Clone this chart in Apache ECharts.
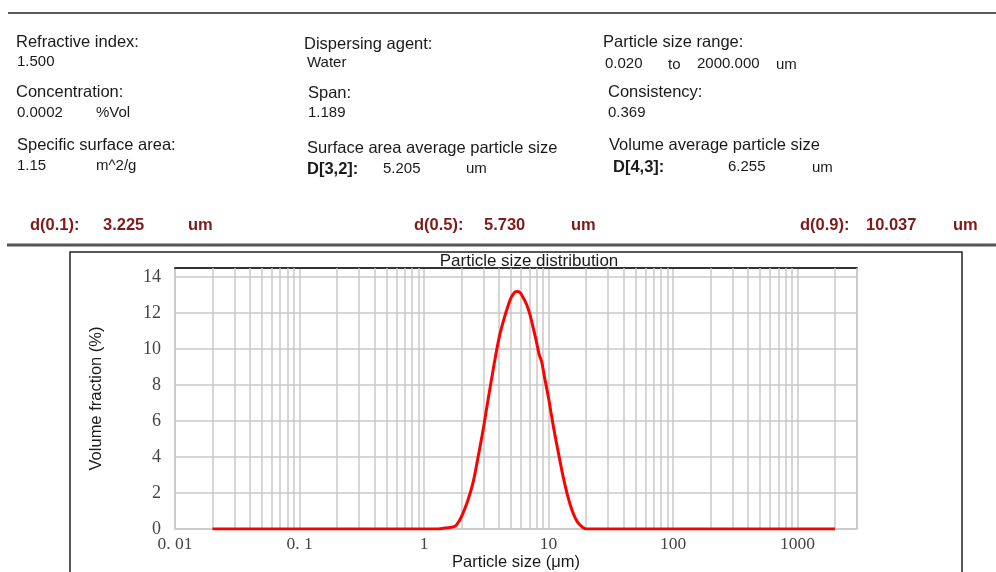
<!DOCTYPE html>
<html>
<head>
<meta charset="utf-8">
<script src="https://cdn.jsdelivr.net/npm/echarts@6/dist/echarts.min.js"></script>
<style>
html,body{margin:0;padding:0;background:#fff;}
#chart{width:996px;height:572px;}
</style>
</head>
<body>
<div id="chart"></div>
<script>
// ---- Data ----
const particleSizes = [0.02, 0.05, 0.1, 0.2, 0.5, 1, 1.3, 1.47, 1.6, 1.77, 1.9, 2.06, 2.25, 2.48, 2.7, 2.98, 3.2, 3.48, 3.75, 4.06, 4.4, 4.73, 5.0, 5.35, 5.6, 5.87, 6.2, 6.64, 7.1, 7.51, 8.0, 8.4, 8.8, 9.3, 9.93, 10.5, 11.2, 12.1, 13.1, 14.3, 15.7, 17.2, 18.9, 20, 50, 100, 200, 500, 1000, 2000];
const volumeFraction = [0, 0, 0, 0, 0, 0, 0, 0.05, 0.08, 0.15, 0.4, 0.9, 1.6, 2.6, 3.9, 5.5, 6.8, 8.3, 9.6, 10.8, 11.7, 12.4, 12.85, 13.15, 13.2, 13.15, 12.9, 12.5, 11.9, 11.2, 10.4, 9.7, 9.3, 8.4, 7.4, 6.4, 5.3, 4.1, 2.9, 1.8, 0.9, 0.35, 0.08, 0, 0, 0, 0, 0, 0, 0];

const xTickValues = [0.01, 0.1, 1, 10, 100, 1000];
const xTickLabels = ['0. 01', '0. 1', '1', '10', '100', '1000'];
const xMinorGrid = [0.02, 0.03, 0.04, 0.05, 0.06, 0.07, 0.08, 0.09,
  0.2, 0.3, 0.4, 0.5, 0.6, 0.7, 0.8, 0.9,
  2, 3, 4, 5, 6, 7, 8, 9,
  20, 30, 40, 50, 60, 70, 80, 90,
  200, 300, 400, 500, 600, 700, 800, 900,
  2000, 3000];
const yTickValues = [0, 2, 4, 6, 8, 10, 12, 14];

const headerLabels = ['Refractive index:', 'Concentration:', 'Specific surface area:',
  'Dispersing agent:', 'Span:', 'Surface area average particle size',
  'Particle size range:', 'Consistency:', 'Volume average particle size'];
const headerValues = ['1.500', '0.0002', '1.15', 'Water', '1.189', '5.205', '0.020', '0.369', '6.255'];
const dLabels = ['d(0.1):', 'd(0.5):', 'd(0.9):'];
const dValues = ['3.225', '5.730', '10.037'];

// ---- Chart ----
const chart = echarts.init(document.getElementById('chart'), null, {renderer: 'canvas'});
const SANS = 'Liberation Sans, Arial, sans-serif';
const SERIF = 'Liberation Serif, Times New Roman, serif';
const DRED = '#801a1a';
const LBL = 16.5, VAL = 15;

function txt(x, y, text, size, opts) {
  opts = opts || {};
  return {
    type: 'text', x: x, y: y, silent: true,
    style: {
      text: text,
      fontSize: size,
      fontFamily: opts.family || SANS,
      fontWeight: opts.bold ? 'bold' : 'normal',
      fill: opts.color || '#1a1a1a',
      verticalAlign: 'middle',
      align: opts.align || 'left'
    }
  };
}

const graphics = [
  {type: 'line', silent: true, shape: {x1: 8, y1: 13, x2: 996, y2: 13}, style: {stroke: '#5a5a5a', lineWidth: 2}},
  {type: 'line', silent: true, shape: {x1: 7, y1: 245, x2: 996, y2: 245}, style: {stroke: '#555', lineWidth: 3}},
  {type: 'rect', silent: true, shape: {x: 70, y: 252, width: 892, height: 340}, style: {fill: 'none', stroke: '#222', lineWidth: 1.5}},
  // column 1
  txt(16, 42, headerLabels[0], LBL),
  txt(17, 62, headerValues[0], VAL),
  txt(16, 92, headerLabels[1], LBL),
  txt(17, 113, headerValues[1], VAL),
  txt(96, 113, '%Vol', VAL),
  txt(17, 145, headerLabels[2], LBL),
  txt(17, 166, headerValues[2], VAL),
  txt(96, 166, 'm^2/g', VAL),
  // column 2
  txt(304, 44, headerLabels[3], LBL),
  txt(307, 63, headerValues[3], VAL),
  txt(308, 93, headerLabels[4], LBL),
  txt(308, 113, headerValues[4], VAL),
  txt(307, 148, headerLabels[5], LBL),
  txt(307, 169, 'D[3,2]:', LBL, {bold: true}),
  txt(383, 169, headerValues[5], VAL),
  txt(466, 169, 'um', VAL),
  // column 3
  txt(603, 42, headerLabels[6], LBL),
  txt(605, 64, headerValues[6], VAL),
  txt(668, 65, 'to', VAL),
  txt(697, 64, '2000.000', VAL),
  txt(776, 65, 'um', VAL),
  txt(608, 92, headerLabels[7], LBL),
  txt(608, 113, headerValues[7], VAL),
  txt(609, 145, headerLabels[8], LBL),
  txt(613, 167, 'D[4,3]:', LBL, {bold: true}),
  txt(728, 167, headerValues[8], VAL),
  txt(812, 168, 'um', VAL),
  // d row
  txt(30, 225, dLabels[0], 16.5, {bold: true, color: DRED}),
  txt(103, 225, dValues[0], 16.5, {bold: true, color: DRED}),
  txt(188, 225, 'um', 16.5, {bold: true, color: DRED}),
  txt(414, 225, dLabels[1], 16.5, {bold: true, color: DRED}),
  txt(484, 225, dValues[1], 16.5, {bold: true, color: DRED}),
  txt(571, 225, 'um', 16.5, {bold: true, color: DRED}),
  txt(800, 225, dLabels[2], 16.5, {bold: true, color: DRED}),
  txt(866, 225, dValues[2], 16.5, {bold: true, color: DRED}),
  txt(953, 225, 'um', 16.5, {bold: true, color: DRED}),
  // chart title
  txt(529, 261, 'Particle size distribution', 17, {align: 'center'})
];

function xLabel(v) {
  for (let i = 0; i < xTickValues.length; i++) {
    if (Math.abs(Math.log10(v) - Math.log10(xTickValues[i])) < 1e-6) return xTickLabels[i];
  }
  return '';
}

const GRID_GRAY = '#c8c8c8';

const option = {
  backgroundColor: '#fff',
  animation: false,
  graphic: graphics,
  grid: {left: 175, right: 139, top: 268, bottom: 43, containLabel: false},
  xAxis: [{
    type: 'log', logBase: 10, min: 0.01, max: 3000,
    name: 'Particle size (μm)', nameLocation: 'middle', nameGap: 22,
    nameTextStyle: {fontFamily: SANS, fontSize: 16.5, color: '#1a1a1a', verticalAlign: 'top'},
    axisLine: {show: true, lineStyle: {color: GRID_GRAY, width: 1.5}},
    axisTick: {show: false},
    axisLabel: {show: true, formatter: xLabel, fontFamily: SERIF, fontSize: 17.5, color: '#444', margin: 6},
    splitLine: {show: true, lineStyle: {color: GRID_GRAY, width: 1.5}},
    minorTick: {show: false}, minorSplitLine: {show: false}
  }, {
    type: 'log', logBase: 10, min: 0.01, max: 3000, position: 'top',
    axisLine: {show: true, lineStyle: {color: '#333', width: 2}},
    axisTick: {show: false}, axisLabel: {show: false}, splitLine: {show: false}
  }],
  yAxis: [{
    type: 'value', min: 0, max: 14.5, interval: 2,
    name: 'Volume fraction (%)', nameLocation: 'middle', nameGap: 70,
    nameTextStyle: {fontFamily: SANS, fontSize: 16.5, color: '#1a1a1a'},
    axisLine: {show: true, lineStyle: {color: GRID_GRAY, width: 1.5}},
    axisTick: {show: false},
    axisLabel: {
      fontFamily: SERIF, fontSize: 18, color: '#444', margin: 14,
      formatter: function (v) { return yTickValues.indexOf(v) >= 0 ? String(v) : ''; }
    },
    splitLine: {show: true, lineStyle: {color: GRID_GRAY, width: 1.5}}
  }],
  series: [{
    type: 'line', xAxisIndex: 0, yAxisIndex: 0, data: [], z: 1, silent: true,
    markLine: {
      silent: true, symbol: ['none', 'none'], animation: false,
      label: {show: false},
      lineStyle: {color: GRID_GRAY, width: 1.5, type: 'solid'},
      emphasis: {disabled: true},
      data: xMinorGrid.map(v => ({xAxis: v}))
    }
  }, {
    type: 'line', xAxisIndex: 0, yAxisIndex: 0, z: 5,
    data: particleSizes.map((s, i) => [s, volumeFraction[i]]),
    showSymbol: false, symbol: 'none',
    smooth: 0.35,
    lineStyle: {color: '#ff0000', width: 3},
    itemStyle: {color: '#ff0000'}
  }]
};
chart.setOption(option);
</script>
</body>
</html>
